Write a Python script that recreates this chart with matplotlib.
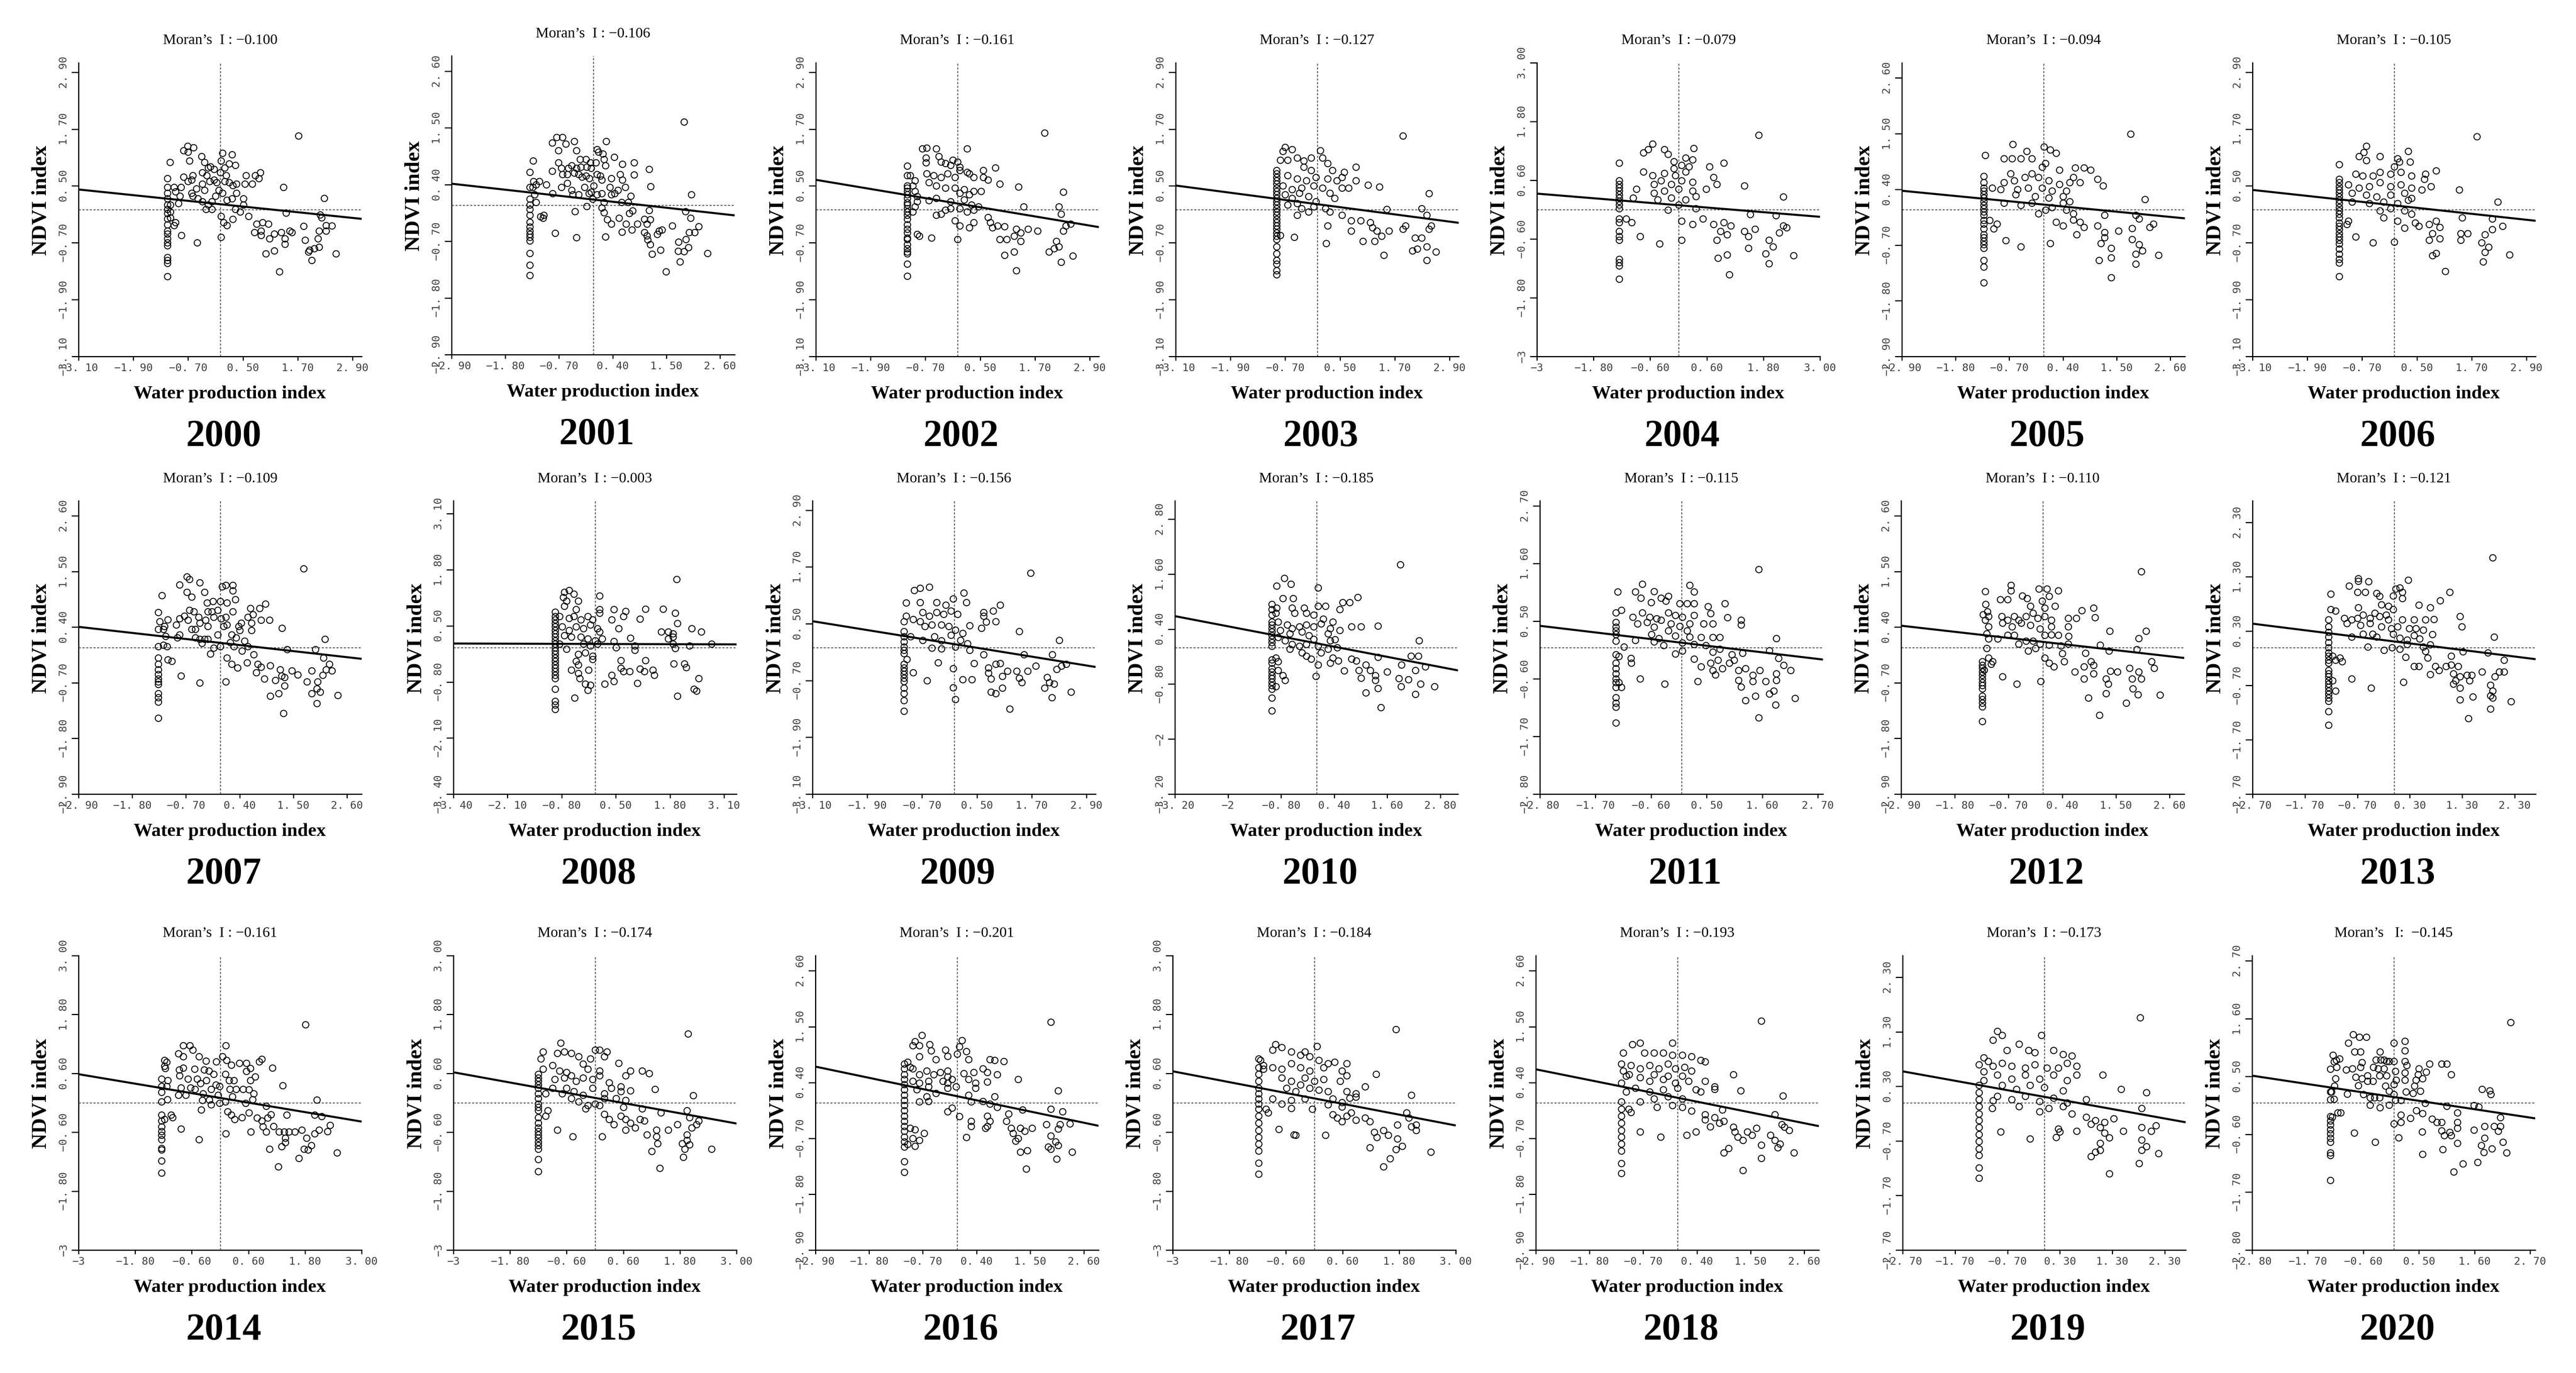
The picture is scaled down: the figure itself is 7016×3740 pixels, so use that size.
import numpy as np
import matplotlib.pyplot as plt

years = list(range(2000, 2021))
moran = [-0.100, -0.106, -0.161, -0.127, -0.079, -0.094, -0.105,
         -0.109, -0.003, -0.156, -0.185, -0.115, -0.110, -0.121,
         -0.161, -0.174, -0.201, -0.184, -0.193, -0.173, -0.145]
# intercept of the fitted line
icpt = [0.115, 0.11, 0.13, 0.115, 0.09, 0.10, 0.09,
        0.09, 0.08, 0.07, 0.09, 0.09, 0.11, 0.11,
        0.10, 0.10, 0.13, 0.09, 0.10, 0.11, 0.11]
# axis half-range (first tick) and tick step
lim = [3.10, 2.90, 3.10, 3.10, 3.0, 2.90, 3.10,
       2.90, 3.40, 3.10, 3.20, 2.80, 2.90, 2.70,
       3.0, 3.0, 2.90, 3.0, 2.90, 2.70, 2.80]
step = [1.2, 1.1, 1.2, 1.2, 1.2, 1.1, 1.2,
        1.1, 1.3, 1.2, 1.2, 1.1, 1.1, 1.0,
        1.2, 1.2, 1.1, 1.2, 1.1, 1.0, 1.1]

# the vertical stack of points on the left of each cloud
colx = [-1.15, -1.30, -1.10, -0.89, -1.26, -1.22, -1.20,
        -1.27, -0.96, -1.10, -1.01, -1.30, -1.24, -1.25,
        -1.24, -1.20, -1.08, -1.18, -1.15, -1.24, -1.25]
col2000 = [0.66, 0.475, 0.35, 0.23, 0.10, 0.01, -0.08, -0.19, -0.32, -0.45, -0.51, -0.61, -0.70, -0.76, -1.01, -1.07, -1.13, -1.41]
col2001 = [0.64, 0.35, 0.12, 0.01, -0.08, -0.19, -0.33, -0.42, -0.50, -0.56, -0.62, -0.69, -0.93, -1.16, -1.36]
col2002 = [0.92, 0.72, 0.50, 0.46, 0.39, 0.32, 0.24, 0.15, 0.10, 0.02, -0.05, -0.12, -0.20, -0.32, -0.41, -0.49, -0.60, -0.63, -0.74, -0.82, -0.89, -0.93, -1.15, -1.40]
col2003 = [0.83, 0.76, 0.68, 0.61, 0.54, 0.46, 0.39, 0.32, 0.24, 0.17, 0.10, 0.02, -0.05, -0.12, -0.20, -0.27, -0.34, -0.41, -0.49, -0.56, -0.63, -0.78, -0.93, -1.07, -1.15, -1.29, -1.37]
col2004 = [0.95, 0.59, 0.52, 0.45, 0.38, 0.31, 0.24, 0.17, 0.10, 0.02, -0.19, -0.26, -0.44, -0.55, -0.62, -1.01, -1.08, -1.15, -1.42]
col2005 = [0.66, 0.54, 0.43, 0.37, 0.30, 0.23, 0.16, 0.09, 0.02, -0.04, -0.11, -0.21, -0.28, -0.38, -0.49, -0.55, -0.62, -0.69, -0.76, -1.00, -1.13, -1.44]
col2006 = [0.95, 0.64, 0.57, 0.49, 0.42, 0.35, 0.27, 0.20, 0.13, 0.05, -0.02, -0.09, -0.17, -0.28, -0.35, -0.42, -0.50, -0.57, -0.64, -0.72, -0.83, -0.94, -1.05, -1.12, -1.41]
col2007 = [0.69, 0.36, 0.02, -0.21, -0.33, -0.44, -0.53, -0.62, -0.68, -0.73, -0.91, -0.99, -1.08, -1.40]
col2008 = [0.82, 0.72, 0.64, 0.56, 0.48, 0.40, 0.32, 0.24, 0.16, 0.08, 0.00, -0.08, -0.16, -0.24, -0.32, -0.40, -0.48, -0.56, -0.64, -0.72, -0.97, -1.25, -1.33, -1.43]
col2009 = [0.34, 0.23, 0.12, 0.01, -0.06, -0.13, -0.35, -0.43, -0.50, -0.57, -0.65, -0.72, -0.86, -0.97, -1.12, -1.35]
col2010 = [0.94, 0.83, 0.71, 0.56, 0.49, 0.41, 0.34, 0.26, 0.18, 0.11, 0.03, -0.27, -0.34, -0.46, -0.53, -0.61, -0.68, -0.76, -0.83, -0.91, -1.10, -1.38]
col2011 = [0.66, 0.48, 0.39, 0.32, 0.25, 0.12, -0.14, -0.30, -0.40, -0.50, -0.60, -0.67, -0.76, -0.96, -1.06, -1.14, -1.44]
col2012 = [-0.28, -0.35, -0.41, -0.48, -0.55, -0.62, -0.69, -0.75, -0.82, -0.96, -1.03, -1.10, -1.17, -1.46]
col2013 = [0.51, 0.38, 0.28, 0.19, 0.09, 0.00, -0.10, -0.16, -0.23, -0.29, -0.42, -0.48, -0.54, -0.61, -0.67, -0.73, -0.80, -0.86, -0.93, -0.99, -1.18, -1.43]
col2014 = [0.49, 0.34, 0.22, 0.02, -0.25, -0.37, -0.49, -0.58, -0.66, -0.75, -0.93, -0.96, -1.18, -1.43]
col2015 = [0.58, 0.51, 0.44, 0.37, 0.30, 0.19, 0.09, -0.02, -0.09, -0.16, -0.30, -0.41, -0.51, -0.58, -0.65, -0.72, -0.80, -0.87, -0.94, -1.15, -1.40]
col2016 = [0.77, 0.67, 0.56, 0.46, 0.36, 0.26, 0.15, 0.05, -0.05, -0.15, -0.26, -0.36, -0.46, -0.56, -0.67, -0.77, -0.87, -1.16, -1.37]
col2017 = [0.90, 0.72, 0.58, 0.44, 0.30, 0.19, 0.08, -0.02, -0.13, -0.27, -0.41, -0.56, -0.70, -0.84, -0.98, -1.23, -1.45]
col2018 = [0.02, -0.12, -0.26, -0.40, -0.54, -0.67, -0.81, -0.95, -1.19, -1.39]
col2019 = [0.32, 0.19, 0.06, -0.07, -0.20, -0.32, -0.45, -0.58, -0.71, -0.84, -0.96, -1.19, -1.38]
col2020 = [0.64, 0.21, 0.06, -0.26, -0.34, -0.42, -0.51, -0.59, -0.67, -0.75, -0.95, -1.00, -1.47]

# remaining points (water production index, NDVI index)
p2000 = [(-1.10,1.00),(-1.09,0.10),(-1.09,-0.05),(-1.09,-0.17),(-1.01,0.47),(-0.98,0.38),(-0.86,0.47),(-0.88,0.29),(-0.91,0.13),(-0.98,-0.27),(-1.01,-0.33),(-0.85,-0.54),(-0.80,0.69),(-0.70,0.60),(-0.62,0.63),(-0.60,0.72),(-0.67,1.03),(-0.70,1.22),(-0.80,1.25),(-0.71,1.34),(-0.58,1.31),(-0.41,1.12),(-0.34,1.00),(-0.21,0.91),(-0.13,0.85),(-0.26,0.88),(-0.39,0.78),(-0.29,0.72),(-0.23,0.60),(-0.13,0.63),(-0.08,0.57),(0.00,0.78),(0.02,1.03),(0.05,1.19),(0.26,1.16),(0.33,0.94),(0.20,0.97),(0.10,0.88),(0.13,0.72),(0.10,0.60),(0.20,0.57),(0.28,0.51),(0.36,0.54),(0.36,0.35),(0.26,0.23),(0.15,0.20),(0.05,0.35),(-0.03,0.41),(-0.10,0.29),(-0.18,0.17),(-0.31,0.01),(-0.18,0.01),(-0.26,0.10),(-0.39,0.17),(-0.49,0.23),(-0.60,0.29),(-0.62,0.35),(-0.52,0.44),(-0.39,0.54),(-0.34,0.41),(0.51,0.23),(0.51,0.10),(0.44,-0.05),(0.33,0.01),(0.62,-0.14),(0.57,0.72),(0.54,0.54),(0.70,0.54),(0.77,0.72),(0.85,0.66),(0.88,0.78),(1.39,0.47),(1.44,-0.07),(0.02,-0.14),(0.08,-0.27),(0.15,-0.33),(0.28,-0.20),(0.02,-0.58),(-0.50,-0.70),(0.80,-0.30),(0.93,-0.27),(1.06,-0.30),(0.90,-0.45),(0.75,-0.48),(0.90,-0.54),(1.08,-0.61),(1.19,-0.51),(1.34,-0.48),(1.42,-0.61),(1.42,-0.73),(1.52,-0.45),(1.57,-0.48),(1.00,-0.93),(1.19,-0.87),(1.30,-1.31),(1.72,1.56),(1.83,-0.35),(1.86,-0.64),(1.96,-0.85),(2.01,-1.07),(2.06,-0.82),(2.17,-0.79),(2.14,-0.61),(2.17,-0.45),(2.19,-0.11),(2.22,-0.17),(2.28,0.24),(2.32,-0.33),(2.32,-0.45),(2.45,-0.34),(2.54,-0.93),(1.93,-0.89)]
p2001 = [(-1.23,0.86),(-1.22,0.46),(-1.17,0.40),(-1.10,0.46),(-1.20,0.21),(-1.17,0.06),(-1.24,0.35),(-1.08,-0.22),(-1.01,-0.19),(-1.03,-0.25),(-0.96,0.40),(-0.84,0.66),(-0.83,0.23),(-0.78,-0.54),(-0.84,1.21),(-0.75,1.32),(-0.63,1.32),(-0.56,1.19),(-0.39,1.24),(-0.71,1.06),(-0.34,1.06),(-0.71,0.83),(-0.65,0.72),(-0.63,0.60),(-0.51,0.72),(-0.44,0.77),(-0.53,0.60),(-0.39,0.63),(-0.34,0.72),(-0.27,0.89),(-0.25,0.74),(-0.30,0.60),(-0.23,0.55),(-0.15,0.89),(-0.13,0.74),(-0.06,0.83),(-0.04,0.72),(-0.15,0.57),(-0.08,0.52),(0.08,1.08),(0.11,1.03),(0.20,1.00),(0.22,0.89),(0.25,0.77),(0.27,1.24),(0.06,0.83),(0.08,0.60),(0.15,0.57),(0.18,0.49),(0.37,0.52),(0.43,0.93),(0.55,0.60),(0.60,0.80),(0.60,0.49),(0.66,0.35),(0.84,0.83),(0.84,0.59),(1.15,0.70),(1.18,0.36),(-0.65,0.35),(-0.53,0.43),(-0.44,0.29),(-0.42,0.21),(-0.30,0.21),(-0.18,0.35),(-0.09,0.23),(-0.04,0.26),(0.01,0.38),(-0.01,0.12),(-0.13,-0.02),(-0.37,-0.12),(-0.34,-0.63),(0.08,0.21),(0.18,0.23),(0.22,0.06),(0.34,0.35),(0.37,0.21),(0.44,0.23),(0.51,0.29),(0.58,0.06),(0.72,0.06),(0.77,0.18),(0.18,-0.05),(0.22,-0.14),(0.29,-0.28),(0.37,-0.36),(0.25,-0.61),(0.53,-0.25),(0.59,-0.52),(0.67,-0.36),(0.74,-0.16),(0.81,-0.11),(0.79,-0.48),(0.91,-0.36),(1.05,-0.27),(1.15,-0.10),(1.10,-0.36),(1.17,-0.28),(1.05,-0.53),(1.10,-0.59),(1.12,-0.67),(1.17,-0.76),(1.21,-0.95),(1.31,-0.56),(1.35,-0.50),(1.41,-0.48),(1.38,-0.87),(1.49,-1.29),(1.62,-0.40),(1.75,-0.71),(1.74,-0.89),(1.78,-1.10),(1.86,1.62),(1.86,-0.90),(1.89,-0.12),(1.90,-0.66),(1.95,-0.82),(1.97,-0.53),(2.00,-0.25),(2.01,0.21),(2.08,-0.53),(2.16,-0.41),(2.34,-0.93)]
p2002 = [(-1.03,0.72),(-0.93,0.61),(-0.98,0.50),(-0.93,0.39),(-0.88,0.28),(-0.88,0.17),(-0.93,0.06),(-0.98,-0.05),(-0.88,-0.52),(-0.83,-0.56),(-0.57,-0.60),(-0.77,1.29),(-0.67,1.30),(-0.46,1.29),(-0.69,1.09),(-0.69,0.99),(-0.41,1.12),(-0.36,1.01),(-0.26,0.98),(-0.15,0.94),(-0.10,1.05),(0.00,1.01),(0.05,0.90),(0.21,1.29),(0.21,0.79),(-0.67,0.76),(-0.52,0.72),(-0.36,0.68),(-0.21,0.76),(-0.05,0.68),(0.05,0.83),(0.26,0.76),(0.36,0.68),(0.57,0.83),(0.83,0.88),(0.57,0.68),(0.67,0.63),(0.93,0.54),(1.34,0.48),(2.32,0.37),(-0.62,0.57),(-0.46,0.50),(-0.26,0.46),(-0.05,0.46),(0.15,0.43),(0.36,0.39),(0.52,0.39),(0.05,0.35),(0.26,0.32),(-0.62,0.19),(-0.46,0.24),(-0.15,0.17),(0.15,0.21),(0.31,0.10),(0.46,0.06),(-0.36,-0.09),(-0.46,-0.12),(-0.26,-0.01),(-0.15,0.02),(0.05,0.02),(0.21,-0.05),(0.36,-0.01),(-0.05,-0.23),(0.05,-0.34),(0.26,-0.38),(0.36,-0.27),(0.67,-0.16),(0.72,-0.27),(0.77,-0.38),(0.88,-0.34),(1.03,-0.36),(1.29,-0.41),(1.39,-0.49),(1.55,-0.41),(1.76,-0.45),(0.93,-0.63),(1.08,-0.63),(1.24,-0.56),(1.39,-0.67),(0.00,-0.63),(1.45,0.06),(1.91,1.62),(1.03,-0.96),(1.24,-0.89),(1.29,-1.29),(2.01,-0.89),(2.12,-0.82),(2.17,-0.67),(2.22,-0.78),(2.27,-1.11),(2.32,-0.45),(2.38,-0.34),(2.48,-0.30),(2.53,-0.98),(2.22,0.06),(2.27,-0.09)]
p2003 = [(-0.75,1.23),(-0.70,1.32),(-0.55,1.27),(-0.81,1.05),(-0.65,1.05),(-0.44,1.09),(-0.29,1.03),(-0.13,1.09),(0.07,1.25),(0.12,1.09),(0.23,0.98),(0.33,0.83),(0.59,0.79),(0.85,0.90),(-0.13,0.83),(-0.29,0.90),(-0.65,0.72),(-0.44,0.65),(-0.24,0.61),(-0.03,0.68),(0.23,0.65),(0.43,0.61),(0.54,0.68),(0.85,0.61),(1.11,0.52),(1.36,0.48),(-0.75,0.50),(-0.55,0.43),(-0.34,0.46),(-0.08,0.50),(0.12,0.46),(0.28,0.35),(0.54,0.46),(0.69,0.46),(-0.70,0.32),(-0.55,0.24),(-0.39,0.35),(-0.19,0.28),(-0.03,0.17),(0.38,0.24),(-0.65,0.10),(-0.44,0.13),(-0.34,0.02),(-0.08,0.06),(0.18,0.02),(-0.44,-0.12),(-0.19,-0.05),(0.28,-0.05),(0.54,-0.12),(1.52,0.01),(2.29,0.02),(2.45,0.34),(2.40,-0.12),(0.23,-0.34),(0.74,-0.23),(0.74,-0.45),(0.95,-0.23),(1.16,-0.27),(1.21,-0.38),(1.31,-0.45),(1.57,-0.45),(1.41,-0.56),(1.26,-0.67),(1.00,-0.67),(1.46,-0.96),(1.88,-0.41),(1.93,-0.34),(2.14,-0.60),(2.29,-0.60),(2.40,-0.78),(2.09,-0.87),(2.19,-0.83),(2.60,-0.89),(2.40,-1.07),(2.45,-0.41),(2.50,-0.34),(1.88,1.56),(0.20,-0.71),(-0.50,-0.58),(-0.81,-0.54)]
p2004 = [(-1.11,-0.19),(-0.99,-0.26),(-0.81,-0.55),(-0.40,-0.70),(-0.74,1.16),(-0.55,1.34),(-0.64,1.23),(-0.30,1.23),(-0.22,1.13),(0.32,1.25),(-0.10,0.98),(0.15,1.06),(0.30,1.02),(0.07,0.91),(-0.10,0.84),(0.22,0.88),(-0.74,0.77),(-0.55,0.70),(-0.30,0.74),(-0.07,0.70),(0.15,0.77),(0.66,0.88),(0.96,0.95),(-0.52,0.52),(-0.37,0.59),(-0.15,0.52),(0.07,0.59),(0.30,0.56),(0.74,0.66),(0.81,0.52),(1.40,0.49),(-0.89,0.42),(-0.52,0.34),(-0.30,0.38),(0.00,0.42),(0.30,0.38),(0.59,0.42),(-0.96,0.24),(-0.44,0.20),(-0.15,0.24),(0.15,0.20),(0.37,0.27),(2.22,0.26),(-0.22,-0.01),(0.00,0.10),(0.37,0.02),(1.52,-0.10),(2.07,-0.12),(0.07,-0.23),(0.30,-0.30),(0.52,-0.19),(0.74,-0.30),(0.96,-0.26),(1.11,-0.33),(0.89,-0.44),(0.81,-0.62),(1.03,-0.51),(0.07,-0.62),(1.40,-0.44),(1.62,-0.40),(1.48,-0.55),(1.48,-0.79),(1.92,-0.62),(2.00,-0.76),(2.14,-0.47),(2.29,-0.37),(2.22,-0.33),(1.85,-0.90),(1.92,-1.10),(2.44,-0.94),(0.84,-0.99),(1.03,-0.92),(1.08,-1.33),(1.70,1.52)]
p2005 = [(-1.19,1.07),(-1.05,0.43),(-1.10,-0.21),(-0.95,-0.28),(-1.02,-0.38),(-0.77,-0.61),(-0.46,-0.73),(-0.63,1.29),(-0.81,1.01),(-0.64,1.01),(-0.46,1.01),(-0.34,1.15),(-0.24,1.01),(0.01,1.24),(0.14,1.18),(0.26,1.12),(0.04,0.91),(-0.03,0.84),(0.33,0.78),(0.65,0.83),(0.83,0.83),(0.97,0.78),(-0.67,0.71),(-0.81,0.54),(-0.60,0.57),(-0.38,0.64),(-0.24,0.71),(-0.10,0.64),(0.11,0.57),(0.33,0.50),(0.54,0.54),(0.75,0.54),(0.61,0.64),(1.11,0.60),(1.22,0.47),(-0.88,0.40),(-0.53,0.40),(-0.31,0.43),(-0.03,0.43),(0.18,0.37),(0.47,0.37),(-0.57,0.30),(-0.17,0.26),(0.11,0.23),(0.40,0.26),(0.54,0.16),(-0.81,0.13),(-0.46,0.09),(-0.24,0.13),(0.40,0.13),(2.08,0.20),(-0.10,-0.08),(0.04,-0.01),(0.18,0.04),(0.47,-0.01),(0.61,-0.08),(1.25,-0.11),(1.89,-0.11),(1.96,-0.18),(0.26,-0.25),(0.40,-0.32),(0.61,-0.20),(0.75,-0.25),(0.83,-0.35),(0.68,-0.49),(1.11,-0.32),(1.25,-0.45),(1.54,-0.42),(1.82,-0.37),(2.18,-0.35),(2.25,-0.28),(1.25,-0.55),(1.18,-0.67),(1.39,-0.76),(1.82,-0.59),(1.96,-0.69),(2.03,-0.81),(1.89,-0.88),(2.36,-0.90),(1.14,-1.00),(1.39,-0.95),(1.89,-1.07),(0.14,-0.67),(1.39,-1.34),(1.79,1.49)]
p2006 = [(-1.00,-0.24),(-1.03,-0.31),(-0.84,-0.57),(-0.46,-0.70),(0.00,-0.68),(-0.61,1.34),(-0.66,1.21),(-0.77,1.12),(-0.61,1.04),(-0.31,1.12),(0.08,1.08),(0.31,1.23),(0.12,1.01),(0.00,0.91),(0.35,1.01),(-0.84,0.75),(-0.69,0.71),(-0.46,0.71),(-0.31,0.79),(-0.08,0.75),(0.15,0.79),(0.38,0.71),(0.69,0.75),(0.92,0.82),(0.66,0.64),(-1.00,0.53),(-0.77,0.46),(-0.54,0.49),(-0.31,0.57),(-0.08,0.49),(0.15,0.53),(0.38,0.46),(0.61,0.42),(0.81,0.49),(1.43,0.42),(-0.92,0.35),(-0.61,0.31),(-0.38,0.27),(-0.08,0.31),(0.23,0.35),(0.38,0.24),(-0.92,0.16),(-0.54,0.13),(-0.23,0.16),(0.08,0.13),(0.31,0.20),(2.27,0.16),(-0.31,-0.02),(-0.08,0.02),(0.23,-0.02),(0.38,-0.09),(-0.23,-0.17),(1.49,-0.17),(2.15,-0.19),(0.08,-0.24),(0.46,-0.28),(0.54,-0.35),(0.77,-0.31),(0.92,-0.24),(1.00,-0.37),(0.84,-0.50),(0.77,-0.64),(1.00,-0.61),(0.23,-0.39),(1.46,-0.50),(1.61,-0.50),(1.46,-0.64),(1.99,-0.53),(2.15,-0.42),(2.38,-0.35),(1.92,-0.70),(2.07,-0.79),(1.99,-0.90),(2.53,-0.95),(1.95,-1.10),(0.84,-0.97),(0.92,-0.92),(1.12,-1.30),(1.81,1.54)]
p2007 = [(-1.19,1.03),(-1.24,0.51),(-1.14,0.42),(-1.07,0.55),(-1.16,0.36),(-1.12,0.22),(-1.16,0.05),(-1.09,0.02),(-1.07,-0.24),(-0.99,-0.27),(-0.90,0.45),(-0.83,0.57),(-0.83,0.25),(-0.88,0.19),(-0.80,-0.56),(-0.83,1.24),(-0.68,1.40),(-0.63,1.35),(-0.68,1.09),(-0.58,1.00),(-0.42,1.28),(-0.32,1.09),(-0.73,0.62),(-0.63,0.74),(-0.66,0.54),(-0.54,0.71),(-0.58,0.36),(-0.51,0.36),(-0.44,0.60),(-0.42,0.48),(-0.51,0.19),(-0.42,0.16),(-0.37,0.08),(-0.30,0.54),(-0.25,0.42),(-0.25,0.71),(-0.27,0.88),(-0.15,0.91),(-0.17,0.71),(-0.13,0.60),(-0.05,0.74),(0.00,0.91),(0.04,1.20),(0.12,1.23),(0.26,1.23),(0.26,1.12),(0.14,0.88),(0.31,0.95),(0.26,0.71),(0.12,0.60),(0.02,0.57),(0.07,0.42),(0.14,0.45),(-0.05,0.25),(-0.25,0.16),(-0.32,0.16),(-0.20,-0.13),(-0.13,-0.01),(0.00,0.02),(0.24,0.25),(0.21,0.10),(0.28,0.02),(0.33,0.19),(0.38,0.42),(0.43,0.48),(0.40,0.34),(0.50,0.13),(0.45,-0.07),(0.57,0.02),(0.57,0.60),(0.62,0.77),(0.67,0.65),(0.64,0.48),(0.64,0.34),(0.81,0.77),(0.93,0.86),(0.84,0.54),(1.01,0.54),(1.27,0.38),(0.14,-0.21),(0.24,-0.33),(0.36,-0.40),(0.12,-0.68),(-0.42,-0.70),(0.55,-0.30),(0.69,-0.14),(0.77,-0.33),(0.74,-0.50),(0.84,-0.39),(0.91,-0.62),(1.03,-0.36),(1.03,-0.96),(1.13,-0.65),(1.23,-0.44),(1.26,-0.56),(1.32,-0.59),(1.32,-0.76),(1.20,-0.91),(1.30,-1.30),(1.37,-0.04),(1.47,-0.46),(1.59,-0.54),(1.71,1.56),(1.78,-0.68),(1.88,-0.46),(1.88,-0.91),(1.95,-0.04),(1.98,-0.82),(1.98,-1.11),(2.00,-0.68),(2.05,-0.88),(2.10,-0.55),(2.12,-0.21),(2.15,0.16),(2.17,-0.44),(2.24,-0.33),(2.29,-0.46),(2.41,-0.95)]
p2008 = [(-0.74,1.28),(-0.62,1.32),(-0.51,1.24),(-0.76,1.16),(-0.68,1.08),(-0.40,1.08),(-0.74,0.96),(-0.45,0.88),(0.11,1.20),(-0.85,0.72),(-0.62,0.68),(-0.51,0.72),(-0.34,0.64),(-0.17,0.72),(-0.06,0.64),(0.11,0.88),(0.11,0.80),(0.40,0.64),(0.45,0.88),(0.74,0.84),(0.68,0.72),(1.08,0.66),(1.21,0.89),(1.64,0.89),(1.93,0.80),(1.98,0.56),(-0.79,0.48),(-0.62,0.40),(-0.45,0.48),(-0.28,0.44),(-0.11,0.52),(0.06,0.44),(0.11,0.36),(0.57,0.44),(1.59,0.36),(1.76,0.36),(1.87,0.32),(2.32,0.44),(2.55,0.36),(-0.74,0.28),(-0.57,0.24),(-0.34,0.24),(-0.17,0.20),(0.00,0.16),(0.17,0.20),(0.85,0.22),(1.76,0.20),(1.87,0.24),(-0.85,0.08),(-0.68,-0.04),(-0.28,0.08),(-0.11,0.04),(0.06,0.08),(0.45,0.14),(0.51,0.00),(0.96,0.04),(0.96,-0.06),(1.87,0.08),(1.93,-0.02),(2.27,0.04),(2.80,0.08),(-0.40,-0.16),(-0.23,-0.12),(-0.06,-0.20),(-0.45,-0.32),(-0.40,-0.40),(-0.06,-0.28),(0.62,-0.30),(1.21,-0.30),(-0.57,-0.52),(-0.40,-0.60),(-0.37,-0.72),(-0.15,-0.52),(0.62,-0.48),(0.68,-0.56),(0.83,-0.56),(1.08,-0.50),(1.19,-0.56),(1.39,-0.52),(1.42,-0.64),(1.89,-0.38),(2.15,-0.38),(2.19,-0.46),(0.40,-0.64),(0.45,-0.79),(0.23,-0.85),(-0.23,-0.85),(-0.11,-0.87),(-0.17,-0.99),(1.02,-0.83),(2.49,-0.72),(2.38,-0.97),(2.44,-1.01),(1.98,-1.13),(-0.49,-1.17),(1.96,1.58)]
p2009 = [(-1.05,0.94),(-1.05,0.66),(-1.10,0.55),(-1.03,-0.25),(-0.90,-0.53),(-0.59,-0.70),(-0.87,1.21),(-0.74,1.25),(-0.54,1.28),(-0.74,0.95),(-0.38,0.95),(-0.18,0.90),(-0.02,1.03),(0.21,1.15),(0.27,0.95),(1.01,0.90),(-0.69,0.74),(-0.54,0.66),(-0.90,0.59),(-0.74,0.55),(-0.38,0.74),(-0.23,0.70),(-0.07,0.77),(0.08,0.70),(0.65,0.74),(0.86,0.77),(0.65,0.66),(0.91,0.55),(0.70,0.54),(-0.64,0.45),(-0.49,0.48),(-0.28,0.48),(-0.12,0.45),(0.03,0.37),(0.34,0.46),(0.60,0.41),(1.43,0.34),(-0.95,0.23),(-0.69,0.15),(-0.43,0.23),(-0.28,0.14),(-0.07,0.26),(0.19,0.30),(0.14,0.15),(0.29,0.08),(2.30,0.15),(-0.49,-0.01),(-0.28,-0.03),(0.03,0.01),(0.34,-0.06),(0.65,-0.15),(1.53,-0.15),(2.15,-0.15),(-0.35,-0.32),(-0.02,-0.45),(-0.02,-0.85),(0.03,-1.10),(0.19,-0.68),(0.39,-0.68),(0.44,-0.34),(0.75,-0.43),(0.91,-0.35),(1.01,-0.34),(0.75,-0.54),(0.81,-0.66),(1.06,-0.61),(1.17,-0.50),(1.37,-0.50),(1.43,-0.65),(1.48,-0.74),(1.61,-0.50),(1.79,-0.39),(0.81,-0.94),(0.91,-0.97),(1.06,-0.86),(1.22,-1.30),(2.04,-0.63),(2.09,-0.74),(2.19,-0.77),(1.98,-0.86),(2.14,-1.06),(2.25,-0.46),(2.35,-0.39),(2.46,-0.35),(2.56,-0.94),(1.68,1.57)]
p2010 = [(-0.90,0.86),(-0.92,0.75),(-0.87,0.56),(-0.82,0.37),(-0.87,0.22),(-0.92,-0.23),(-0.87,-0.31),(-0.87,-0.50),(-0.76,-0.61),(-0.71,-0.72),(-0.92,-0.85),(-0.90,1.34),(-0.73,1.51),(-0.58,1.38),(-0.76,1.07),(-0.53,1.07),(0.04,1.30),(-0.55,0.86),(-0.28,0.86),(-0.49,0.75),(-0.23,0.75),(-0.06,0.71),(0.04,0.90),(0.20,0.90),(0.53,0.83),(0.59,0.98),(0.75,0.98),(0.93,1.09),(0.15,0.62),(0.37,0.56),(-0.66,0.49),(-0.55,0.41),(-0.39,0.45),(-0.23,0.49),(-0.06,0.45),(0.10,0.52),(0.31,0.41),(0.53,0.37),(0.79,0.45),(1.01,0.45),(1.39,0.47),(0.26,0.30),(0.42,0.17),(-0.60,0.30),(-0.33,0.34),(-0.17,0.26),(-0.06,0.18),(0.31,0.15),(-0.71,0.15),(-0.55,0.07),(-0.39,0.03),(-0.23,0.07),(0.04,0.03),(0.26,-0.04),(0.47,0.00),(2.32,0.15),(-0.60,-0.04),(-0.33,-0.12),(-0.23,-0.19),(-0.12,-0.25),(0.10,-0.12),(0.37,-0.23),(0.04,-0.38),(0.31,-0.34),(0.49,-0.29),(0.79,-0.25),(0.90,-0.29),(1.12,-0.38),(1.39,-0.21),(0.63,-0.51),(0.96,-0.50),(1.22,-0.50),(1.33,-0.61),(1.60,-0.53),(-0.01,-0.63),(1.01,-0.67),(1.33,-0.72),(1.39,-0.89),(1.12,-0.99),(1.46,-1.31),(1.92,-0.38),(2.14,-0.19),(2.30,-0.19),(2.24,-0.50),(2.46,-0.42),(1.86,-0.68),(2.08,-0.70),(1.91,-0.85),(2.35,-0.80),(2.24,-1.02),(2.67,-0.85),(1.90,1.81)]
p2011 = [(-1.19,0.71),(-1.24,-0.17),(-1.19,-0.76),(-1.24,-0.67),(-1.14,0.01),(-1.00,-0.21),(-0.99,-0.30),(-0.82,-0.60),(-0.33,-0.70),(0.32,-0.65),(-1.26,1.06),(-0.91,1.06),(-0.77,1.21),(-0.54,1.07),(-0.80,0.94),(-0.60,0.86),(-0.40,0.94),(-0.26,0.98),(-0.31,0.89),(0.16,1.19),(0.25,1.06),(-0.03,0.84),(0.11,0.84),(0.25,0.84),(0.53,0.78),(0.86,0.84),(-0.96,0.58),(-0.77,0.66),(-0.63,0.58),(-0.49,0.55),(-0.26,0.66),(-0.12,0.61),(0.02,0.58),(0.25,0.61),(0.58,0.65),(0.91,0.57),(1.18,0.52),(-0.87,0.45),(-0.68,0.48),(-0.54,0.39),(-0.40,0.52),(-0.21,0.45),(-0.03,0.40),(0.16,0.45),(0.44,0.45),(0.62,0.45),(1.18,0.43),(-0.91,0.14),(-0.59,0.25),(-0.45,0.17),(-0.26,0.32),(-0.12,0.22),(0.11,0.32),(0.16,0.20),(0.39,0.19),(0.62,0.19),(0.76,0.19),(1.88,0.17),(-0.54,0.11),(-0.35,0.04),(0.02,0.09),(0.25,0.06),(0.48,0.04),(-0.12,-0.12),(0.02,-0.07),(0.62,-0.09),(0.76,-0.03),(1.74,-0.06),(0.25,-0.22),(0.39,-0.37),(0.58,-0.30),(0.72,-0.24),(0.62,-0.44),(0.67,-0.52),(0.81,-0.40),(0.95,-0.30),(1.00,-0.14),(1.04,-0.24),(1.13,-0.44),(1.21,-0.11),(1.27,-0.40),(1.13,-0.63),(1.18,-0.75),(1.41,-0.53),(1.41,-0.65),(1.55,-0.44),(1.67,-0.65),(1.88,-0.63),(1.92,-0.21),(1.88,-0.50),(2.02,-0.34),(2.16,-0.44),(1.74,-0.89),(1.83,-0.83),(1.46,-0.93),(1.27,-1.01),(1.86,-1.10),(2.25,-0.97),(1.53,-1.34),(1.53,1.49)]
p2012 = [(-1.18,1.11),(-1.17,0.85),(-1.22,0.65),(-1.13,0.71),(-1.11,0.61),(-1.18,0.54),(-1.11,0.41),(-1.15,0.27),(-1.11,0.17),(-1.15,-0.02),(-1.11,-0.21),(-1.03,-0.28),(-1.06,-0.33),(-1.20,-0.45),(-0.82,-0.58),(-0.53,-0.72),(-0.04,-0.67),(-0.65,1.23),(-0.65,1.12),(-0.87,0.95),(-0.72,0.95),(-0.42,1.02),(-0.32,0.97),(-0.25,0.82),(-0.08,1.16),(0.09,1.16),(0.32,1.12),(0.13,1.01),(-0.01,0.92),(0.25,0.82),(0.04,0.78),(-0.84,0.61),(-0.72,0.54),(-0.58,0.61),(-0.49,0.54),(-0.34,0.61),(-0.20,0.68),(-0.10,0.58),(0.04,0.61),(0.18,0.54),(0.52,0.58),(0.69,0.58),(0.80,0.73),(1.04,0.78),(1.07,0.59),(-0.82,0.48),(-0.63,0.41),(-0.44,0.48),(-0.25,0.44),(-0.06,0.37),(0.18,0.41),(0.52,0.41),(1.37,0.32),(2.12,0.32),(-0.92,0.17),(-0.72,0.24),(-0.58,0.24),(-0.49,0.07),(-0.34,0.13),(-0.20,0.13),(0.04,0.24),(0.18,0.25),(0.32,0.24),(0.53,0.22),(1.97,0.18),(-0.30,-0.07),(-0.15,-0.02),(-0.06,0.07),(0.13,0.05),(0.37,0.03),(0.52,0.07),(1.18,0.05),(1.36,-0.07),(1.93,-0.04),(0.04,-0.21),(0.13,-0.31),(0.23,-0.38),(0.40,-0.12),(0.44,-0.28),(0.66,-0.48),(0.85,-0.38),(0.88,-0.11),(0.99,-0.28),(1.04,-0.35),(1.04,-0.52),(0.85,-0.62),(1.30,-0.62),(1.39,-0.47),(1.53,-0.48),(1.34,-0.72),(1.78,-0.41),(1.97,-0.48),(1.83,-0.62),(2.02,-0.62),(2.23,-0.28),(2.28,-0.41),(1.85,-0.82),(1.95,-0.93),(1.30,-0.91),(0.94,-1.00),(1.71,-1.10),(2.40,-0.94),(1.16,-1.34),(2.02,1.50)]
p2013 = [(-1.21,0.98),(-1.21,0.70),(-1.12,0.67),(-1.17,-0.16),(-1.12,-0.23),(-1.03,-0.19),(-0.99,-0.26),(-1.17,-0.61),(-1.12,-0.80),(-0.81,-0.58),(-0.44,-0.75),(0.18,-0.64),(-0.86,1.13),(-0.68,1.27),(-0.68,1.22),(-0.49,1.21),(-0.70,1.02),(-0.55,1.02),(-0.33,1.00),(-0.28,0.94),(0.03,1.08),(0.11,1.10),(0.27,1.24),(0.16,1.02),(-0.02,0.95),(0.16,0.90),(-0.24,0.79),(-0.11,0.76),(-0.02,0.70),(0.47,0.78),(0.69,0.73),(0.88,0.86),(1.06,1.02),(-0.95,0.54),(-0.81,0.51),(-0.68,0.73),(-0.70,0.54),(-0.59,0.60),(-0.46,0.54),(-0.37,0.63),(-0.28,0.57),(-0.15,0.60),(-0.11,0.51),(0.16,0.51),(0.38,0.51),(0.60,0.51),(0.76,0.52),(1.26,0.57),(-0.90,0.44),(-0.64,0.41),(-0.46,0.44),(-0.24,0.38),(-0.05,0.35),(0.07,0.38),(0.29,0.35),(0.42,0.35),(0.56,0.32),(1.29,0.38),(-0.81,0.19),(-0.59,0.25),(-0.41,0.25),(-0.33,0.19),(-0.02,0.25),(0.11,0.17),(0.25,0.14),(0.38,0.22),(0.49,0.16),(0.73,0.24),(1.91,0.19),(-0.50,0.01),(-0.19,-0.05),(-0.04,0.00),(0.11,-0.03),(0.25,0.06),(0.56,0.01),(0.60,-0.07),(0.69,0.05),(1.09,-0.16),(1.31,-0.08),(1.79,-0.10),(0.22,-0.18),(0.64,-0.19),(0.38,-0.35),(0.47,-0.35),(0.69,-0.50),(0.79,-0.35),(0.86,-0.42),(0.99,-0.35),(1.09,-0.32),(1.22,-0.35),(1.13,-0.48),(1.17,-0.61),(1.13,-0.67),(1.26,-0.54),(1.39,-0.51),(1.48,-0.51),(1.44,-0.61),(1.26,-0.75),(1.26,-0.96),(1.50,-0.91),(1.68,-0.45),(1.84,-0.69),(1.88,-0.80),(1.84,-0.89),(1.92,-0.54),(2.01,-0.45),(2.10,-0.45),(2.10,-0.23),(1.88,-0.93),(1.84,-1.13),(2.23,-1.00),(1.42,-1.31),(1.88,1.65)]
p2014 = [(-1.18,0.87),(-1.13,0.83),(-1.18,0.75),(-1.16,0.70),(-1.11,0.46),(-1.13,0.34),(-1.12,0.07),(-1.18,-0.34),(-1.04,-0.25),(-1.01,-0.30),(-0.83,-0.53),(-0.45,-0.75),(-0.88,1.00),(-0.78,1.17),(-0.78,0.94),(-0.64,1.17),(-0.58,1.08),(-0.45,0.94),(-0.30,0.85),(-0.87,0.67),(-0.78,0.71),(-0.86,0.55),(-0.68,0.49),(-0.54,0.69),(-0.49,0.49),(-0.34,0.67),(-0.24,0.65),(-0.14,0.58),(-0.08,0.84),(0.05,0.94),(0.12,1.17),(0.14,0.87),(0.24,0.77),(0.11,0.58),(0.19,0.46),(0.29,0.46),(0.41,0.81),(0.56,0.81),(0.56,0.64),(0.64,0.70),(0.74,0.53),(0.64,0.46),(0.83,0.84),(0.88,0.89),(1.11,0.71),(1.33,0.35),(-0.83,0.31),(-0.63,0.31),(-0.53,0.28),(-0.42,0.40),(-0.36,0.19),(-0.29,0.46),(-0.19,0.28),(-0.09,0.37),(-0.01,0.34),(-0.88,0.16),(-0.73,0.16),(-0.38,0.05),(-0.23,0.06),(-0.19,-0.04),(-0.04,0.16),(-0.01,-0.01),(0.11,0.02),(0.21,0.28),(0.26,0.13),(0.34,0.28),(0.49,0.28),(0.61,0.27),(0.71,0.19),(0.69,0.07),(0.54,-0.01),(0.61,-0.20),(0.46,-0.30),(0.31,-0.34),(0.24,-0.25),(0.16,-0.18),(0.12,-0.63),(-0.40,-0.14),(0.65,-0.59),(0.78,-0.31),(0.88,-0.37),(0.91,-0.49),(0.98,-0.59),(1.01,-0.31),(0.98,-0.07),(1.08,-0.24),(1.13,-0.48),(1.05,-0.94),(1.25,-0.59),(1.30,-0.89),(1.36,-0.59),(1.38,-0.72),(1.38,-0.81),(1.41,-0.25),(1.46,-0.59),(1.58,-0.59),(1.23,-1.30),(1.67,-1.13),(1.73,-0.55),(1.81,1.59),(1.83,-0.72),(1.78,-0.94),(1.86,-0.96),(1.93,-0.87),(2.00,-0.25),(2.00,-0.63),(2.05,0.06),(2.10,-0.55),(2.15,-0.28),(2.28,-0.58),(2.33,-0.46),(2.48,-1.02)]
p2015 = [(-1.10,1.04),(-1.15,0.90),(-1.10,0.69),(-1.05,0.19),(-1.00,-0.16),(-1.05,-0.27),(-0.80,-0.55),(-0.47,-0.69),(0.15,-0.69),(-0.73,1.22),(-0.80,1.01),(-0.65,1.04),(-0.50,1.01),(-0.90,0.76),(-0.75,0.65),(-0.60,0.62),(-0.35,0.94),(-0.25,0.79),(-0.10,0.90),(0.00,1.08),(0.10,1.08),(0.20,0.94),(0.25,1.04),(0.50,0.81),(-0.15,0.69),(0.10,0.65),(-0.85,0.48),(-0.65,0.51),(-0.50,0.55),(-0.40,0.44),(-0.25,0.51),(-0.05,0.48),(0.10,0.55),(0.30,0.41),(0.65,0.55),(0.75,0.65),(1.00,0.65),(1.15,0.60),(1.27,0.28),(-0.90,0.30),(-0.70,0.19),(-0.60,0.30),(-0.45,0.23),(-0.25,0.16),(-0.05,0.30),(0.20,0.19),(0.35,0.30),(0.55,0.33),(0.55,0.23),(0.75,0.25),(2.08,0.15),(-0.50,0.09),(-0.35,0.02),(-0.15,-0.05),(0.00,-0.02),(0.20,0.09),(0.45,0.09),(0.65,0.05),(-0.20,-0.12),(0.10,-0.05),(0.60,-0.09),(1.00,-0.12),(1.40,-0.20),(1.95,-0.16),(0.20,-0.23),(0.30,-0.34),(0.40,-0.44),(0.55,-0.27),(0.65,-0.34),(0.75,-0.41),(0.85,-0.51),(0.65,-0.55),(0.95,-0.34),(1.05,-0.37),(1.10,-0.65),(1.30,-0.55),(1.30,-0.69),(1.33,-0.83),(1.20,-0.99),(1.37,-1.33),(1.55,-0.55),(1.75,-0.44),(1.95,-0.65),(1.95,-0.76),(1.85,-0.83),(2.00,-0.85),(2.05,-0.51),(2.15,-0.44),(2.20,-0.37),(1.90,-0.94),(1.87,-1.11),(2.47,-0.94),(2.00,-0.30),(1.97,1.41)]
p2016 = [(-1.01,0.80),(-0.96,0.70),(-0.96,-0.50),(-0.86,-0.53),(-0.91,-0.70),(-1.01,-0.82),(-0.86,-0.85),(-0.67,-0.60),(-0.77,-0.74),(-0.62,0.12),(0.19,-0.68),(-0.19,-0.17),(-0.10,-0.10),(-0.72,1.33),(-0.86,1.21),(-0.91,1.13),(-0.77,1.13),(-0.56,1.15),(-0.53,1.03),(-0.77,0.91),(-0.43,0.85),(-0.24,1.04),(-0.19,0.92),(0.00,0.96),(0.10,1.23),(0.05,1.11),(0.19,1.01),(0.24,0.85),(0.67,0.85),(0.77,0.84),(0.96,0.82),(-0.91,0.67),(-0.77,0.56),(-0.62,0.63),(-0.48,0.56),(-0.34,0.60),(-0.19,0.63),(-0.19,0.51),(0.14,0.58),(0.34,0.60),(0.53,0.67),(0.62,0.60),(0.82,0.56),(1.25,0.46),(-0.91,0.43),(-0.77,0.39),(-0.58,0.43),(-0.29,0.43),(-0.10,0.46),(0.24,0.46),(0.38,0.39),(0.62,0.41),(-0.19,0.39),(-0.82,0.26),(-0.58,0.32),(-0.43,0.19),(-0.19,0.29),(-0.02,0.32),(0.38,0.29),(2.07,0.24),(-0.77,0.02),(-0.58,0.03),(0.24,0.15),(0.29,0.02),(0.53,0.03),(0.77,0.12),(0.82,-0.09),(0.67,-0.02),(1.92,-0.12),(2.16,-0.17),(1.34,-0.14),(0.05,-0.27),(0.29,-0.36),(0.29,-0.46),(0.62,-0.26),(0.67,-0.36),(0.62,-0.46),(0.58,-0.50),(1.06,-0.22),(1.01,-0.36),(1.11,-0.50),(1.15,-0.60),(1.25,-0.70),(1.30,-0.50),(1.39,-0.56),(1.54,-0.50),(1.20,-0.75),(1.30,-0.97),(1.44,-0.94),(1.83,-0.43),(2.07,-0.51),(2.11,-0.43),(2.31,-0.41),(1.92,-0.65),(2.02,-0.77),(2.07,-0.84),(1.92,-0.91),(1.87,-0.87),(2.04,-1.11),(2.36,-0.97),(1.42,-1.30),(1.92,1.59)]
p2017 = [(-1.02,-0.13),(-0.98,-0.20),(-0.75,-0.54),(-0.39,-0.66),(0.24,-0.66),(-1.08,0.76),(-1.14,0.87),(-0.82,1.19),(-0.69,1.13),(-0.88,1.08),(-0.49,1.04),(-0.20,1.04),(0.06,1.15),(-0.10,0.94),(0.10,0.87),(-0.29,0.97),(0.43,0.83),(0.29,0.80),(0.69,0.80),(-1.08,0.69),(-0.88,0.72),(-0.69,0.69),(-0.49,0.80),(-0.29,0.72),(-0.10,0.65),(0.20,0.72),(0.59,0.65),(0.69,0.55),(1.31,0.58),(-0.69,0.51),(-0.49,0.44),(-0.20,0.51),(0.00,0.44),(0.20,0.48),(-0.29,0.37),(0.55,0.44),(-0.59,0.30),(-0.39,0.23),(-0.10,0.30),(0.10,0.26),(0.29,0.23),(0.69,0.23),(0.88,0.19),(1.08,0.33),(0.88,0.12),(2.06,0.16),(-0.88,0.08),(-0.49,0.05),(-0.20,0.08),(0.39,0.08),(0.59,0.01),(0.75,0.10),(-0.69,-0.02),(-0.49,-0.11),(-0.04,-0.13),(0.29,-0.04),(0.59,-0.08),(0.39,-0.24),(0.49,-0.31),(0.59,-0.38),(0.69,-0.27),(0.78,-0.20),(0.88,-0.35),(1.08,-0.31),(1.18,-0.38),(1.27,-0.60),(1.33,-0.70),(1.18,-0.91),(1.47,-0.56),(1.57,-0.66),(1.76,-0.45),(1.76,-0.73),(1.86,-0.88),(1.73,-0.95),(1.96,-0.20),(2.00,-0.31),(2.06,-0.49),(2.16,-0.45),(2.16,-0.56),(1.61,-1.14),(1.47,-1.30),(2.47,-1.00),(1.73,1.50),(-0.43,-0.65)]
p2018 = [(-1.11,0.98),(-1.15,0.77),(-1.11,0.63),(-1.05,0.53),(-1.15,0.39),(-1.05,0.22),(-1.00,-0.12),(-0.95,-0.19),(-0.76,-0.57),(-0.34,-0.67),(0.19,-0.64),(-0.92,1.15),(-0.76,1.18),(-0.67,0.98),(-0.48,0.98),(-0.29,0.98),(-0.10,1.18),(-0.10,0.94),(0.10,0.94),(0.29,0.91),(0.48,0.84),(0.57,0.81),(1.15,0.56),(-0.95,0.74),(-0.76,0.67),(-0.57,0.74),(-0.38,0.67),(-0.19,0.77),(-0.04,0.67),(0.15,0.70),(0.29,0.63),(-0.99,0.56),(-0.76,0.50),(-0.48,0.56),(-0.19,0.53),(0.10,0.53),(-0.57,0.43),(-0.29,0.46),(-0.04,0.39),(0.23,0.43),(0.57,0.43),(0.76,0.32),(1.30,0.24),(-0.86,0.29),(-0.57,0.22),(-0.29,0.26),(0.00,0.29),(0.38,0.26),(0.48,0.22),(0.76,0.27),(-0.48,0.08),(-0.19,0.12),(0.10,0.08),(-0.76,0.02),(-0.10,-0.05),(0.10,-0.09),(-0.42,-0.09),(2.16,0.14),(0.29,-0.16),(0.57,-0.23),(0.76,-0.29),(0.95,-0.36),(0.57,-0.33),(0.86,-0.40),(0.67,-0.47),(0.38,-0.57),(1.15,-0.48),(1.18,-0.57),(1.24,-0.67),(1.43,-0.57),(1.34,-0.74),(1.53,-0.64),(1.62,-0.50),(1.91,-0.64),(2.00,-0.74),(2.10,-0.81),(2.19,-0.48),(2.29,-0.54),(2.14,-0.43),(2.00,-0.23),(1.72,-0.83),(2.06,-0.88),(1.72,-1.09),(2.39,-0.98),(0.95,-0.98),(1.05,-0.90),(1.34,-1.33),(1.72,1.61),(0.92,-0.14)]
p2019 = [(-1.15,0.83),(-1.24,0.70),(-1.07,0.76),(-1.15,0.57),(-1.15,0.41),(-0.98,0.04),(-0.99,-0.10),(-0.83,-0.53),(-0.27,-0.66),(0.30,-0.53),(-0.89,1.31),(-0.80,1.24),(-0.98,1.15),(-0.48,1.08),(-0.71,0.96),(-0.30,0.96),(-0.18,0.92),(-0.05,1.24),(0.18,0.96),(0.36,0.89),(0.53,0.86),(0.44,0.73),(-0.98,0.67),(-0.80,0.73),(-0.62,0.67),(-0.36,0.64),(-0.18,0.70),(0.05,0.64),(0.27,0.64),(0.62,0.67),(1.12,0.51),(-0.89,0.51),(-0.62,0.44),(-0.36,0.51),(-0.09,0.44),(0.18,0.51),(0.44,0.41),(0.62,0.51),(-0.80,0.32),(-0.53,0.25),(-0.27,0.32),(0.00,0.28),(0.36,0.22),(1.47,0.25),(1.95,0.19),(-0.89,0.12),(-0.62,0.06),(-0.36,0.12),(-0.09,0.03),(0.18,0.09),(0.44,0.00),(0.80,0.06),(-0.48,-0.07),(-0.09,-0.16),(0.09,-0.10),(0.36,-0.07),(0.53,-0.20),(0.80,-0.26),(0.98,-0.32),(0.89,-0.39),(1.15,-0.36),(1.33,-0.29),(1.86,-0.10),(0.27,-0.48),(0.62,-0.52),(1.07,-0.45),(1.15,-0.55),(1.24,-0.64),(1.07,-0.74),(1.51,-0.52),(1.86,-0.45),(2.04,-0.52),(2.13,-0.42),(1.86,-0.68),(1.95,-0.80),(1.86,-0.87),(2.18,-0.93),(0.98,-0.90),(0.89,-0.98),(1.07,-0.87),(1.81,-1.11),(1.24,-1.30),(1.83,1.56),(0.23,-0.63)]
p2020 = [(-1.20,0.91),(-1.18,0.78),(-1.14,0.81),(-1.07,0.84),(-1.13,0.68),(-1.15,0.46),(-1.17,0.32),(-1.23,0.21),(-1.18,0.07),(-1.11,-0.19),(-1.05,-0.19),(-1.22,-0.27),(-0.94,0.63),(-0.92,0.17),(-0.82,0.65),(-0.90,1.14),(-0.80,1.30),(-0.68,1.25),(-0.54,1.25),(-0.77,0.97),(-0.66,0.97),(-0.63,0.77),(-0.66,0.68),(-0.75,0.49),(-0.63,0.46),(-0.70,0.33),(-0.60,0.16),(-0.78,-0.57),(-0.52,0.52),(-0.52,0.41),(-0.41,0.41),(-0.47,0.10),(-0.47,-0.04),(-0.40,0.68),(-0.35,0.82),(-0.27,0.97),(-0.26,0.82),(-0.31,0.65),(-0.28,0.52),(-0.19,0.82),(-0.14,0.79),(-0.09,0.79),(-0.19,0.65),(-0.14,0.52),(-0.16,0.32),(-0.28,0.10),(-0.38,0.10),(-0.27,-0.09),(-0.09,-0.04),(-0.09,0.22),(0.00,1.14),(0.00,0.79),(0.03,0.60),(0.05,0.43),(0.00,0.35),(0.00,0.16),(0.03,0.05),(0.00,-0.40),(0.10,-0.66),(0.14,0.05),(0.14,-0.23),(0.14,-0.37),(-0.37,-0.75),(0.22,1.17),(0.22,0.99),(0.22,0.79),(0.22,0.57),(0.22,0.43),(0.26,0.71),(0.24,0.21),(0.33,-0.29),(0.38,0.18),(0.41,0.32),(0.44,0.43),(0.48,0.54),(0.50,0.65),(0.45,-0.15),(0.53,0.22),(0.57,0.46),(0.64,0.59),(0.57,-0.20),(0.62,-0.01),(0.56,-0.55),(0.57,-0.98),(0.71,0.74),(0.76,-0.31),(0.85,-0.37),(0.95,-0.37),(0.95,-0.53),(0.95,0.74),(1.05,0.74),(1.05,-0.06),(1.00,-0.62),(0.97,-0.89),(1.14,0.54),(1.11,-0.56),(1.14,-0.62),(1.19,-1.31),(1.26,-0.19),(1.26,-0.37),(1.26,-0.48),(1.26,-0.77),(1.37,-1.16),(1.59,-0.52),(1.59,-0.05),(1.68,-0.08),(1.66,-1.13),(1.75,0.26),(1.73,-0.81),(1.78,-0.94),(1.80,-0.45),(1.80,-0.67),(1.90,0.23),(1.92,0.16),(1.94,-0.87),(1.99,-0.45),(2.07,-0.54),(2.11,-0.28),(2.11,-0.45),(2.16,-0.75),(2.23,-0.95),(2.31,1.53)]

cols = [col2000, col2001, col2002, col2003, col2004, col2005, col2006,
        col2007, col2008, col2009, col2010, col2011, col2012, col2013,
        col2014, col2015, col2016, col2017, col2018, col2019, col2020]
pts = [p2000, p2001, p2002, p2003, p2004, p2005, p2006,
       p2007, p2008, p2009, p2010, p2011, p2012, p2013,
       p2014, p2015, p2016, p2017, p2018, p2019, p2020]

plt.rcParams['font.family'] = ['Liberation Serif', 'DejaVu Serif']
W, H = 7016, 3740
fig = plt.figure(figsize=(W / 100, H / 100), dpi=100)

# panel placement in pixels (left edge of each column, top of each row)
lefts = [[214, 1230, 2222, 3202, 4186, 5180, 6135],
         [214, 1235, 2213, 3200, 4194, 5178, 6135],
         [214, 1235, 2221, 3194, 4183, 5182, 6134]]
tops = [171, 1364, 2603]
hts = [800, 799, 802]
aw = 771


def fmt(v):
    if v < 0 and abs(v - round(v)) < 1e-6:
        return '\u2212%d' % round(-v)
    s = ('%.2f' % abs(v)).replace('.', '. ')
    return ('\u2212' if v < 0 else '') + s


for i, yr in enumerate(years):
    r, c = divmod(i, 7)
    left = lefts[r][c]
    top = tops[r]
    h = hts[r]
    if yr == 2001:
        top, h = 152, 814
    ax = fig.add_axes([left / W, 1 - (top + h) / H, aw / W, h / H])
    L = lim[i]
    ax.set_xlim(-L, L)
    ax.set_ylim(-L, L)
    ax.axvline(0, color='#5a5a5a', lw=1.9, ls=(0, (2.2, 1.6)), zorder=1)
    ax.axhline(0, color='#5a5a5a', lw=1.9, ls=(0, (2.2, 1.6)), zorder=1)

    xs = [colx[i]] * len(cols[i]) + [p[0] for p in pts[i]]
    ys = list(cols[i]) + [p[1] for p in pts[i]]
    ax.plot(xs, ys, 'o', mfc='none', mec='black', ms=12.5, mew=1.8, zorder=3)
    ax.plot([-L, L], [icpt[i] - moran[i] * L, icpt[i] + moran[i] * L],
            color='black', lw=4, zorder=2, solid_capstyle='butt')

    ticks = [-L + k * step[i] for k in range(6)]
    labels = [fmt(t) for t in ticks]
    ax.set_xticks(ticks)
    ax.set_yticks(ticks)
    ax.set_xticklabels(labels, family='DejaVu Sans Mono', fontsize=21, color='#404040')
    ax.set_yticklabels(labels, family='DejaVu Sans Mono', fontsize=21, color='#404040',
                       rotation=90, va='center')
    ax.tick_params(axis='x', length=8, width=2.2, pad=5)
    ax.tick_params(axis='y', length=14, width=2.2, pad=5)
    for s in ['top', 'right']:
        ax.spines[s].set_visible(False)
    for s in ['left', 'bottom']:
        ax.spines[s].set_linewidth(2.3)

    cx = left + aw / 2
    if yr == 2020:
        ttl = 'Moran\u2019s   I:  \u2212%.3f' % abs(moran[i])
    else:
        ttl = 'Moran\u2019s  I : \u2212%.3f' % abs(moran[i])
    fig.text(cx / W, 1 - (top - 60) / H, ttl, ha='center', va='center', fontsize=29)
    fig.text((cx + 26) / W, 1 - (top + h + 102) / H, 'Water production index',
             ha='center', va='center', fontsize=37, fontweight='bold')
    fig.text((left - 102) / W, 1 - (top + h / 2 - 25) / H, 'NDVI index',
             ha='center', va='center', rotation=90, fontsize=42, fontweight='bold')
    fig.text((cx + 10) / W, 1 - (top + h + 219) / H, str(yr),
             ha='center', va='center', fontsize=74, fontweight='bold')

fig.savefig('out.png', dpi=100)
